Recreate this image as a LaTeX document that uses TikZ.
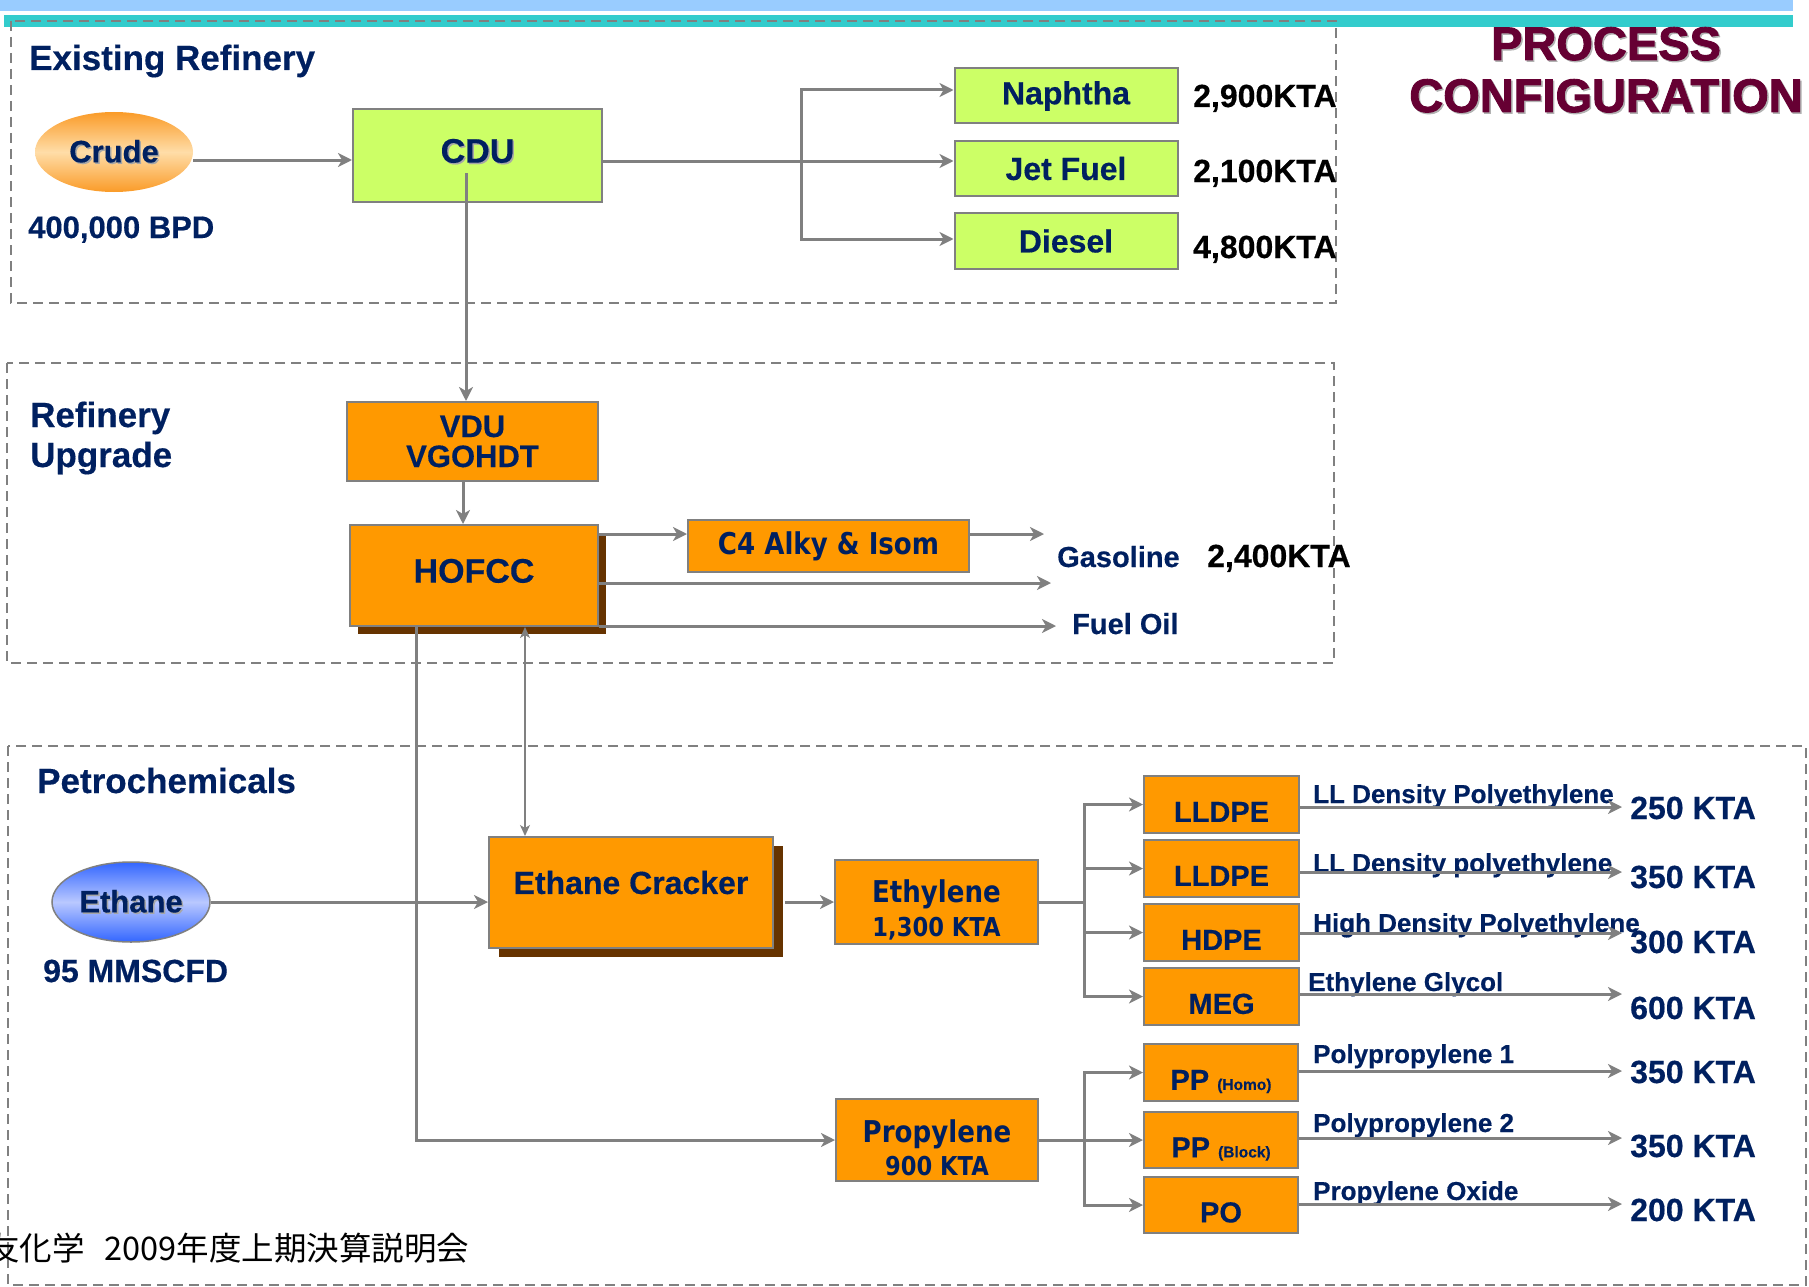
\documentclass[tikz,border=0pt]{standalone}
\usepackage{fontspec}
\setmainfont{Liberation Sans}[BoldFeatures={FakeBold=0.4}]
\newfontfamily\heavyfont{Liberation Sans}[BoldFeatures={FakeBold=2}]
\newfontfamily\tahoma{DejaVu Sans}[FakeStretch=0.87]
\newfontfamily\jpfont{Noto Sans CJK JP}
\usetikzlibrary{arrows.meta,shapes.geometric,shadows}
\definecolor{navy}{RGB}{0,32,96}
\definecolor{boxorange}{RGB}{255,153,0}
\definecolor{boxgreen}{RGB}{204,255,102}
\definecolor{edgegray}{RGB}{128,128,128}
\definecolor{shadowbrown}{RGB}{102,51,0}
\definecolor{titlemaroon}{RGB}{102,0,51}
\definecolor{barblue}{RGB}{153,204,255}
\definecolor{barteal}{RGB}{51,204,204}
\definecolor{crudeorange}{RGB}{250,155,40}
\definecolor{crudelight}{RGB}{255,221,168}
\definecolor{ethblue}{RGB}{51,102,255}
\definecolor{ethlight}{RGB}{185,200,255}
\newcommand\fsz[1]{\fontsize{#1}{#1}\selectfont}
\newcommand\shtext[2][black!35]{\leavevmode\rlap{\kern1.5pt\raisebox{-1.5pt}{\textcolor{#1}{#2}}}#2}
\begin{document}
\begin{tikzpicture}[x=1pt,y=-1pt,
  conn/.style={draw=edgegray, line width=3pt, -{Stealth[length=14pt,width=14pt,inset=4pt]}},
  plainline/.style={draw=edgegray, line width=3pt},
  biconn/.style={draw=edgegray, line width=1.3pt, {Stealth[length=11pt,width=10pt,inset=3pt]}-{Stealth[length=11pt,width=10pt,inset=3pt]}},
  region/.style={draw=edgegray, line width=2.5pt, dash pattern=on 10pt off 6pt},
  gbox/.style={draw=edgegray, line width=2pt, fill=boxgreen, text=navy, inner sep=0pt, font=\bfseries\fsz{32}},
  obox/.style={draw=edgegray, line width=2pt, fill=boxorange, text=navy, inner sep=0pt},
  pbox/.style={obox, minimum width=155pt, minimum height=57pt, font=\bfseries\fsz{29}, text height=34.8pt, text depth=0pt},
  brownshadow/.style={drop shadow={shadow xshift=#1, shadow yshift=-#1, fill=shadowbrown, opacity=1, draw=none}},
  title/.style={text=navy, anchor=base west, inner sep=0pt, font=\bfseries\fsz{35}},
  lbl/.style={text=navy, anchor=base west, inner sep=0pt, font=\bfseries\fsz{#1}},
  klbl/.style={text=black, anchor=base west, inner sep=0pt, font=\bfseries\fsz{32}},
  plbl/.style={text=navy, anchor=base west, inner sep=0pt, font=\bfseries\fsz{26}},
  pkta/.style={text=navy, anchor=base west, inner sep=0pt, font=\bfseries\fsz{32}},
  bigtitle/.style={anchor=base, inner sep=0pt, text=titlemaroon, font=\heavyfont\bfseries\fsz{47}}
]
\useasboundingbox (0,0) rectangle (1809,1287);
% top bars
\fill[barblue] (0,0) rectangle (1793,11);
\fill[barteal] (4,15) rectangle (1793,27);
% regions
\draw[region] (11,21) rectangle (1336,303);
\draw[region] (7,363) rectangle (1334,663);
\draw[region] (8,746) rectangle (1806,1285);
% titles
\node[title] (t1) at (29,70) {Existing Refinery};
\node[title] (t2) at (30,427) {Refinery};
\node[title] (t3) at (30,467) {Upgrade};
\node[title] (t4) at (37,793) {Petrochemicals};
\node[bigtitle] (pc1) at (1606,60) {\shtext[black!30]{PROCESS}};
\node[bigtitle] (pc2) at (1606,112) {\shtext[black!30]{CONFIGURATION}};
% existing refinery
\node[ellipse, minimum width=158pt, minimum height=80pt, inner sep=0pt, top color=crudeorange, bottom color=crudeorange, middle color=crudelight, text=navy, font=\bfseries\fsz{31}] (crude) at (114,152) {\shtext{Crude}};
\node[lbl=31] (bpd) at (28,238) {400,000 BPD};
\node[gbox, minimum width=249pt, minimum height=93pt, font=\bfseries\fsz{34}, text height=24.3pt, text depth=10pt] (cdu) at (477.5,155.5) {\shtext{CDU}};
\node[gbox, minimum width=223pt, minimum height=55pt] (naphtha) at (1066,96) {Naphtha};
\node[gbox, minimum width=223pt, minimum height=55pt] (jet) at (1066,168.5) {Jet Fuel};
\node[gbox, minimum width=223pt, minimum height=56pt] (diesel) at (1066,241) {Diesel};
\node[klbl] (k1) at (1193,107) {2,900KTA};
\node[klbl] (k2) at (1193,182) {2,100KTA};
\node[klbl] (k3) at (1193,258) {4,800KTA};
% refinery upgrade
\node[obox, minimum width=251pt, minimum height=79pt, align=center, font=\bfseries\fontsize{31}{30}\selectfont] (vdu) at (472.5,441.5) {VDU\\VGOHDT};
\node[obox, brownshadow=8pt, minimum width=248pt, minimum height=101pt, font=\bfseries\fsz{34}, text height=24.3pt, text depth=10pt] (hofcc) at (474,575.5) {HOFCC};
\node[obox, minimum width=281pt, minimum height=52pt, font=\tahoma\bfseries\fsz{30}] (c4) at (828.5,546) {C4 Alky \& Isom};
\node[lbl=29] (gas) at (1057,567) {Gasoline};
\node[klbl] (k4) at (1207,567) {2,400KTA};
\node[lbl=29] (fuel) at (1072,634) {Fuel Oil};
% petrochemicals
\node[ellipse, draw=edgegray, line width=1.5pt, minimum width=158pt, minimum height=80pt, inner sep=0pt, top color=ethblue, bottom color=ethblue, middle color=ethlight, text=navy, font=\bfseries\fsz{31}] (ethane) at (131,902) {\shtext{Ethane}};
\node[lbl=32] (mmscfd) at (43,982) {95 MMSCFD};
\node[obox, drop shadow={shadow xshift=10pt, shadow yshift=-9pt, fill=shadowbrown, opacity=1, draw=none}, minimum width=284pt, minimum height=111pt, font=\bfseries\fsz{32}, text height=22.9pt, text depth=20pt] (cracker) at (631,892.5) {Ethane Cracker};
\node[obox, minimum width=203pt, minimum height=84pt, align=center, font=\tahoma\bfseries\fontsize{30}{34}\selectfont] (ethylene) at (936.5,902) {\rule{0pt}{38pt}Ethylene\\{\fsz{26}1,300 KTA}};
\node[obox, minimum width=202pt, minimum height=82pt, align=center, font=\tahoma\bfseries\fontsize{30}{33}\selectfont] (propylene) at (937,1140) {\rule{0pt}{38pt}Propylene\\{\fsz{26}900 KTA}};
\node[pbox] (lldpe1) at (1221.5,804.5) {LLDPE};
\node[pbox] (lldpe2) at (1221.5,868.5) {LLDPE};
\node[pbox] (hdpe) at (1221.5,932.5) {HDPE};
\node[pbox] (meg) at (1221.5,996.5) {MEG};
\node[pbox, minimum width=154pt] (pp1) at (1221,1072.5) {PP {\fsz{15.5}(Homo)}};
\node[pbox, minimum width=154pt, minimum height=56pt] (pp2) at (1221,1140) {PP {\fsz{15.5}(Block)}};
\node[pbox, minimum width=154pt, minimum height=56pt] (po) at (1221,1205) {PO};
\node[plbl] (pl1) at (1313,803) {LL Density Polyethylene};
\node[plbl] (pl2) at (1313,872) {LL Density polyethylene};
\node[plbl] (pl3) at (1313,932) {High Density Polyethylene};
\node[plbl] (pl4) at (1308,991) {Ethylene Glycol};
\node[plbl] (pl5) at (1313,1063) {Polypropylene 1};
\node[plbl] (pl6) at (1313,1132) {Polypropylene 2};
\node[plbl] (pl7) at (1313,1200) {Propylene Oxide};
\node[pkta] (pk1) at (1630,819) {250 KTA};
\node[pkta] (pk2) at (1630,888) {350 KTA};
\node[pkta] (pk3) at (1630,953) {300 KTA};
\node[pkta] (pk4) at (1630,1019) {600 KTA};
\node[pkta] (pk5) at (1630,1083) {350 KTA};
\node[pkta] (pk6) at (1630,1157) {350 KTA};
\node[pkta] (pk7) at (1630,1221) {200 KTA};
\node[anchor=base west, inner sep=0pt, text=black, font=\jpfont\fsz{32.5}] (footer) at (-13,1260) {友化学\hspace{20pt}2009年度上期決算説明会};
% connectors: existing refinery
\coordinate (crudeout) at ([yshift=-8pt]crude.east);
\draw[conn] (crudeout) -- (crudeout -| cdu.west);
\coordinate (cduout) at ([yshift=-5.5pt]cdu.east);
\coordinate (split) at (801,161);
\draw[conn] (cduout) -- (cduout -| jet.west);
\coordinate (naphin) at ([yshift=6pt]naphtha.west);
\coordinate (dieselin) at ([yshift=2pt]diesel.west);
\draw[conn] (split) |- (naphin);
\draw[conn] (split) |- (dieselin);
\coordinate (cdutap) at (466,173);
\draw[conn] (cdutap) -- (cdutap |- vdu.north);
% refinery upgrade
\coordinate (vduout) at ([xshift=-9.5pt]vdu.south);
\draw[conn] (vduout) -- (vduout |- hofcc.north);
\coordinate (c4in) at ([yshift=12pt]c4.west);
\draw[conn] (hofcc.east |- c4in) -- (c4in);
\coordinate (gasA) at (1044,534);
\draw[conn] (c4.east |- gasA) -- (gasA);
\coordinate (gasB) at (1051,583);
\draw[conn] (hofcc.east |- gasB) -- (gasB);
\coordinate (fuelin) at (1056,626);
\draw[conn] (hofcc.east |- fuelin) -- (fuelin);
\coordinate (hofdown) at ([xshift=-58pt]hofcc.south);
\draw[conn] (hofdown) |- (propylene.west);
\coordinate (bi) at ([xshift=-106pt]cracker.north);
\draw[biconn] (bi |- hofcc.south) -- (bi);
% petrochemicals
\draw[conn] (ethane.east) -- (ethane.east -| cracker.west);
\coordinate (crout) at ([xshift=11pt]cracker.east);
\draw[conn] (crout |- ethylene.west) -- (ethylene.west);
\coordinate (ebus) at (1084,902);
\draw[plainline] (ethylene.east) -- (ebus);
\draw[conn] (ebus) |- (lldpe1.west);
\draw[conn] (ebus) |- (lldpe2.west);
\draw[conn] (ebus) |- (hdpe.west);
\draw[conn] (ebus) |- (meg.west);
\coordinate (pbus) at (1084,1140);
\draw[plainline] (propylene.east) -- (pbus);
\draw[conn] (pbus) |- (pp1.west);
\draw[conn] (pbus) -- (pp2.west);
\draw[conn] (pbus) |- (po.west);
\coordinate (outX) at (1622,0);
\foreach \b/\dy in {lldpe1/-2.5, lldpe2/-3.5, hdpe/-0.5, meg/2.5, pp1/1.5, pp2/2, po/1}{
  \coordinate (\b out) at ([yshift=\dy pt]\b.east);
  \draw[conn] (\b out) -- (\b out -| outX);
}
\end{tikzpicture}
\end{document}
